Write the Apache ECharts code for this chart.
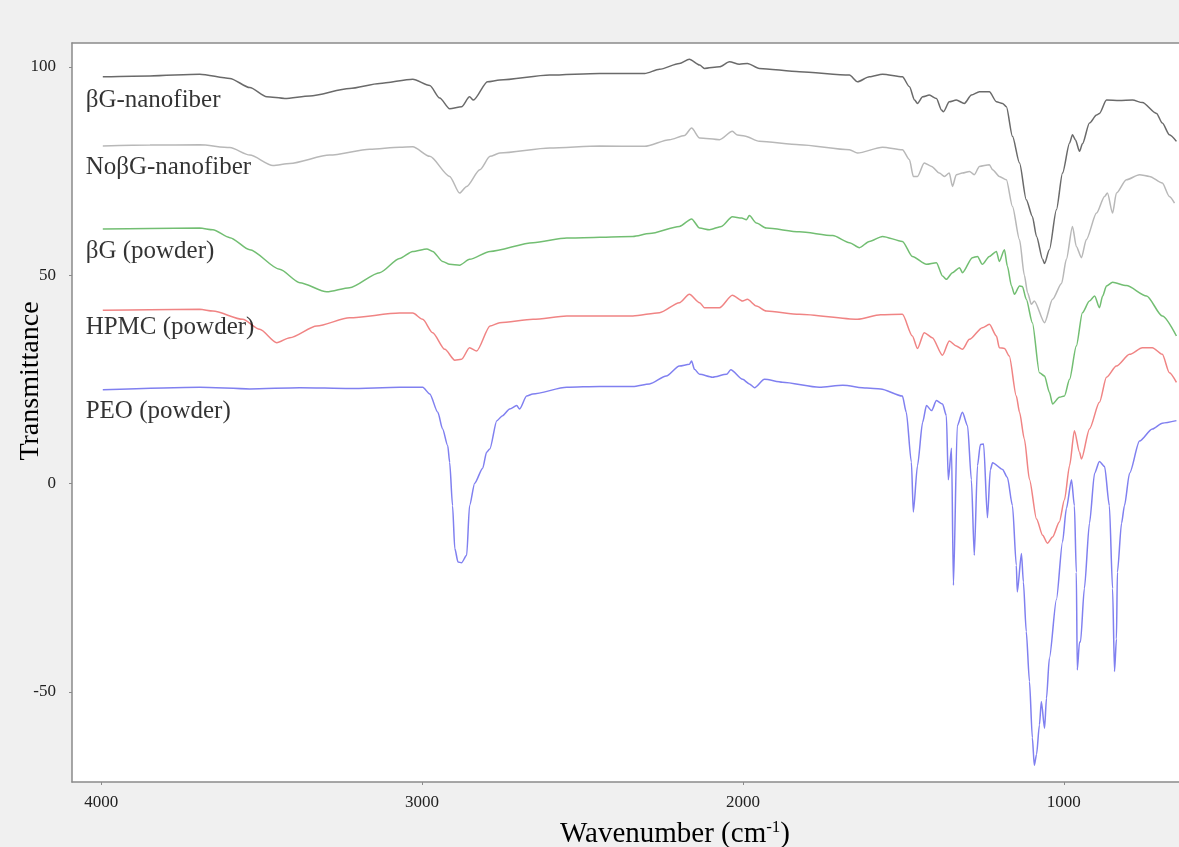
<!DOCTYPE html>
<html>
<head>
<meta charset="utf-8">
<script src="https://cdn.jsdelivr.net/npm/echarts@6/dist/echarts.min.js"></script>
<style>
  html, body { margin: 0; padding: 0; background: #f0f0f0; }
  #chart { width: 1179px; height: 847px; }
</style>
</head>
<body>
<div id="chart"></div>
<script>
// [wavenumber (cm-1), transmittance]
const bgNanofiber = [
  [3995, 97.6], [3848, 97.8], [3693, 98.2], [3599, 97.2], [3537, 95], [3484, 92.8], [3428, 92.4],
  [3350, 93], [3226, 94.8], [3132, 96], [3029, 97], [2976, 95.5], [2945, 92.5], [2914, 89.9],
  [2877, 90.4], [2852, 92.8], [2840, 92], [2796, 96.4], [2758, 96.8], [2602, 98], [2447, 98.4],
  [2306, 98.4], [2260, 99.4], [2198, 100.8], [2167, 101.8], [2135, 100.4], [2120, 99.6],
  [2073, 100], [2042, 101.2], [2011, 100.6], [1986, 100.8], [1949, 99.6], [1824, 98.8],
  [1668, 98], [1643, 96.4], [1606, 97.6], [1565, 98.2], [1503, 97.6], [1481, 95.2], [1465, 92],
  [1456, 91.2], [1440, 92.8], [1419, 93.2], [1397, 92.4], [1381, 89.6], [1375, 89.2], [1357, 91.6],
  [1335, 92], [1310, 91.2], [1288, 93.2], [1263, 94], [1232, 94], [1210, 91.6], [1191, 91.2],
  [1179, 90.4], [1160, 83.3], [1138, 76.9], [1117, 68.1], [1098, 64.1], [1085, 59.3], [1066, 53.8],
  [1060, 52.8], [1045, 56.1], [1023, 65.7], [1004, 74.5], [982, 81.7], [973, 83.7], [964, 82.5],
  [951, 79.7], [942, 81.5], [920, 86.5], [898, 88.4], [889, 88.8], [867, 92], [827, 91.9],
  [786, 92], [755, 91.4], [711, 88.8], [693, 86.5], [671, 83.7], [649, 82.1]
];

const noBgNanofiber = [
  [3995, 81], [3848, 81.2], [3693, 81.3], [3599, 80.6], [3537, 78.8], [3465, 76.3], [3412, 76.8],
  [3288, 78.8], [3163, 80.2], [3070, 80.7], [3029, 80.8], [2976, 78.5], [2914, 73.7], [2883, 69.7],
  [2861, 71.3], [2820, 75.3], [2788, 78.5], [2758, 79.3], [2602, 80.5], [2447, 81], [2306, 80.9],
  [2229, 82.5], [2182, 83.5], [2160, 85.3], [2135, 82.9], [2073, 82.5], [2033, 84.5], [2017, 83.6],
  [1995, 83.4], [1949, 82.1], [1824, 81.3], [1668, 80.1], [1643, 79.3], [1565, 80.7], [1503, 80.1],
  [1481, 77.7], [1469, 73.7], [1456, 73.7], [1435, 76.9], [1412, 76.1], [1388, 74.5], [1372, 73.7],
  [1357, 74.5], [1347, 71.3], [1335, 74.1], [1316, 74.5], [1294, 74.9], [1279, 74.1], [1263, 76.1],
  [1232, 76.5], [1222, 75.3], [1201, 73.7], [1179, 72.9], [1160, 66.5], [1138, 58.5], [1123, 50],
  [1113, 45.8], [1101, 43], [1092, 43.8], [1060, 38.6], [1035, 44.2], [1007, 48], [992, 53.8],
  [973, 61.7], [961, 56.9], [945, 54.2], [930, 58.5], [898, 64.9], [873, 68.9], [864, 69.7],
  [848, 64.9], [836, 69.7], [805, 72.9], [764, 74.1], [733, 73.7], [693, 72.1], [671, 68.9], [655, 67.3]
];

const bgPowder = [
  [3995, 61.1], [3848, 61.2], [3693, 61.3], [3652, 60.9], [3599, 59], [3537, 56.1], [3444, 51.4],
  [3381, 48.2], [3297, 46], [3226, 47], [3132, 50.6], [3070, 54], [3029, 55.7], [2985, 56.3],
  [2967, 55.7], [2936, 53.3], [2914, 52.6], [2883, 52.4], [2852, 53.8], [2788, 55.7], [2654, 57.8],
  [2549, 58.9], [2343, 59.3], [2291, 60], [2198, 61.7], [2160, 63.5], [2135, 61.3], [2104, 60.9],
  [2067, 61.7], [2033, 64], [2004, 63.7], [1989, 63.3], [1980, 64.3], [1958, 62.5], [1927, 61.3],
  [1824, 60.4], [1720, 59.5], [1668, 57.8], [1637, 56.6], [1606, 58.1], [1565, 59.3], [1503, 58.1],
  [1472, 54.5], [1428, 52.6], [1397, 53], [1378, 49.8], [1366, 49], [1347, 50.6], [1325, 51.8],
  [1316, 50.6], [1285, 54.2], [1269, 54.5], [1254, 52.6], [1232, 54.5], [1210, 55.7], [1201, 53.3],
  [1185, 56.1], [1176, 52.2], [1163, 47.4], [1154, 45.4], [1138, 47.4], [1129, 47.3], [1117, 44.2],
  [1098, 38.6], [1076, 26.6], [1060, 25.8], [1045, 21.9], [1035, 19.1], [1014, 20.7], [998, 21],
  [982, 25], [961, 33], [942, 41], [920, 43.8], [904, 45], [889, 42.2], [879, 45], [867, 47.4],
  [848, 48.3], [805, 47.5], [742, 45], [693, 40.2], [649, 35.4]
];

const hpmcPowder = [
  [3995, 41.6], [3848, 41.7], [3693, 41.8], [3652, 41.4], [3559, 39.4], [3506, 37], [3453, 33.8],
  [3412, 35], [3328, 37.8], [3226, 39.8], [3070, 40.9], [3029, 40.9], [2998, 39.4], [2967, 36.2],
  [2929, 32.2], [2898, 29.6], [2877, 29.8], [2852, 32.6], [2830, 31.8], [2788, 37.8], [2758, 38.6],
  [2654, 39.4], [2549, 40.2], [2343, 40.2], [2260, 41], [2198, 43.4], [2167, 45.4], [2135, 43.4],
  [2120, 42.2], [2073, 42.2], [2033, 45.2], [2001, 43.8], [1986, 44.2], [1958, 42.6], [1927, 41.4],
  [1824, 40.6], [1643, 39.4], [1571, 40.5], [1503, 40.6], [1472, 35.4], [1456, 32.4], [1435, 36.2],
  [1410, 35], [1378, 30.8], [1357, 34.2], [1335, 33], [1316, 32.2], [1294, 34.6], [1254, 37.4],
  [1232, 38.2], [1210, 35.4], [1201, 32.6], [1185, 32.4], [1170, 30.6], [1148, 21], [1138, 17.1],
  [1123, 10.7], [1107, 1], [1085, -8.5], [1066, -12.4], [1051, -14.3], [1035, -12.8], [1014, -9.2],
  [998, -3.9], [982, 4.3], [967, 12.7], [951, 7.5], [945, 5.9], [920, 13.1], [889, 19.5],
  [867, 25.5], [836, 28.2], [795, 31], [755, 32.6], [724, 32.6], [693, 31], [671, 26.6], [649, 24.3]
];

const peoPowder = [
  [3995, 22.5], [3693, 23.1], [3537, 22.7], [3381, 23], [3226, 22.8], [3070, 23.1], [2998, 23.1],
  [2976, 21.5], [2951, 17.1], [2936, 13.1], [2920, 9.1], [2914, 5.1], [2905, -5.3], [2898, -15.6],
  [2888, -18.8], [2877, -19], [2861, -17.2], [2852, -5.3], [2836, 0.1], [2811, 3.7], [2799, 7.5],
  [2789, 8.3], [2767, 15.1], [2749, 16.3], [2727, 17.9], [2705, 18.7], [2696, 17.9], [2674, 21],
  [2655, 21.5], [2549, 23.1], [2447, 23.3], [2343, 23.3], [2291, 23.9], [2239, 25.8], [2198, 28.2],
  [2167, 28.6], [2160, 29.4], [2151, 27.4], [2135, 26.2], [2095, 25.5], [2051, 26.2], [2038, 27.3],
  [2001, 25], [1980, 23.9], [1964, 23], [1933, 25], [1877, 24.3], [1762, 23.1], [1689, 23.6],
  [1614, 22.9], [1571, 22.7], [1503, 21], [1491, 17.1], [1475, 5.1], [1469, -6.8], [1456, 4.3],
  [1440, 14.7], [1428, 18.7], [1412, 17.5], [1397, 19.9], [1378, 19.1], [1366, 16.3], [1360, 0.9],
  [1350, 8.5], [1344, -24.4], [1332, 13.9], [1316, 17.1], [1300, 13.9], [1288, 0.9], [1279, -17.2],
  [1269, 4.3], [1260, 9.4], [1250, 9.5], [1238, -8.2], [1229, 3.3], [1222, 5], [1191, 3.4],
  [1176, 1.5], [1160, -5.3], [1148, -19.6], [1145, -26], [1132, -16.8], [1126, -23.6], [1117, -35.5],
  [1107, -47.5], [1098, -61], [1092, -67.6], [1085, -65], [1076, -57.9], [1070, -52.3], [1060, -58.7],
  [1054, -51.5], [1045, -41.9], [1023, -27.8], [1004, -14], [992, -6], [976, 0.9], [967, -5.3],
  [961, -21.3], [958, -44.7], [951, -38], [948, -38], [936, -25.2], [920, -9.5], [904, 2.5],
  [889, 5.3], [873, 4.1], [858, -5.3], [848, -25.2], [842, -45.1], [836, -37.3], [833, -21.3],
  [820, -9.5], [811, -5.3], [795, 2.5], [764, 10.2], [724, 13.1], [693, 14.5], [649, 15.1]
];

const seriesNames = ['βG-nanofiber', 'NoβG-nanofiber', 'βG (powder)', 'HPMC (powder)', 'PEO (powder)'];
const seriesData = [bgNanofiber, noBgNanofiber, bgPowder, hpmcPowder, peoPowder];
const seriesColors = ['#6a6a6a', '#b8b8b8', '#72be72', '#f08484', '#8080f0'];

// where each curve's name is written inside the plot
const labelWave = [4050, 4050, 4050, 4050, 4050];
const labelValue = [91.8, 75.8, 55.7, 37.5, 17.2];

const xTicks = [1000, 2000, 3000, 4000];
const yTicks = [-50, 0, 50, 100];

const serif = '"Liberation Serif", "Times New Roman", serif';
const frame = { color: '#8a8a8a', width: 1.5 };

const chart = echarts.init(document.getElementById('chart'));

const lines = seriesData.map((d, i) => ({
  name: seriesNames[i],
  type: 'line',
  data: d,
  showSymbol: false,
  smooth: 0.25,
  smoothMonotone: 'x',
  lineStyle: { color: seriesColors[i], width: 1.5 },
  itemStyle: { color: seriesColors[i] },
  silent: true,
  z: 2
}));

lines.push({
  name: 'names',
  type: 'scatter',
  symbolSize: 1,
  itemStyle: { color: 'rgba(0,0,0,0)' },
  data: labelWave.map((w, i) => [w, labelValue[i]]),
  label: {
    show: true,
    position: 'right',
    distance: 0,
    formatter: (p) => seriesNames[p.dataIndex],
    fontFamily: serif,
    fontSize: 25,
    color: '#000'
  },
  silent: true,
  z: 3
});

chart.setOption({
  backgroundColor: '#f0f0f0',
  animation: false,
  grid: {
    left: 72,
    top: 43,
    right: 0,
    bottom: 65,
    show: true,
    backgroundColor: '#ffffff',
    borderWidth: 0
  },
  xAxis: [
    {
      type: 'value',
      inverse: true,
      min: 641,
      max: 4091,
      axisLine: { show: true, onZero: false, lineStyle: frame },
      splitLine: { show: false },
      axisTick: { show: true, length: 3, customValues: xTicks, lineStyle: { color: '#8a8a8a' } },
      axisLabel: {
        customValues: xTicks,
        formatter: (v) => String(v),
        margin: 12,
        fontFamily: serif,
        fontSize: 17,
        color: '#222'
      }
    },
    {
      // top edge of the frame
      type: 'value',
      position: 'top',
      inverse: true,
      min: 641,
      max: 4091,
      axisLine: { show: true, onZero: false, lineStyle: frame },
      splitLine: { show: false },
      axisTick: { show: false },
      axisLabel: { show: false }
    }
  ],
  yAxis: {
    type: 'value',
    min: -71.6,
    max: 105.7,
    axisLine: { show: true, onZero: false, lineStyle: frame },
    splitLine: { show: false },
    axisTick: { show: true, length: 3, customValues: yTicks, lineStyle: { color: '#8a8a8a' } },
    axisLabel: {
      customValues: yTicks,
      margin: 16,
      fontFamily: serif,
      fontSize: 17,
      color: '#222'
    }
  },
  graphic: [
    {
      type: 'text',
      x: 31,
      y: 381,
      rotation: Math.PI / 2,
      style: {
        text: 'Transmittance',
        fontFamily: serif,
        fontSize: 28,
        fill: '#000',
        align: 'center',
        verticalAlign: 'middle'
      }
    },
    {
      type: 'text',
      x: 675,
      y: 834,
      style: {
        text: 'Wavenumber (cm{sup|-1})',
        fontFamily: serif,
        fontSize: 29,
        fill: '#000',
        align: 'center',
        verticalAlign: 'middle',
        rich: {
          sup: { fontFamily: serif, fontSize: 17, fill: '#000', verticalAlign: 'top', lineHeight: 30 }
        }
      }
    }
  ],
  series: lines
});
</script>
</body>
</html>
